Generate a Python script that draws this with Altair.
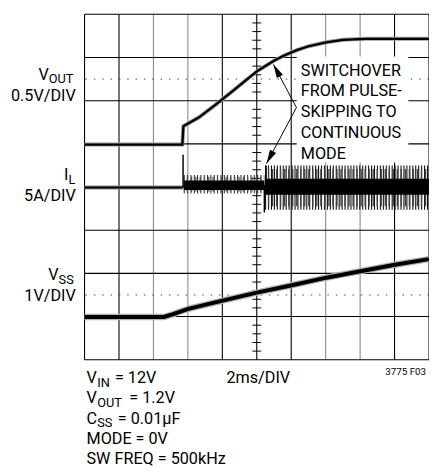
import altair as alt
import pandas as pd

# ---------------- data ----------------
# x in horizontal divisions (2 ms/div, 0..10), y in vertical divisions (0..8, bottom = 0)
VOUT_X = [0.0, 2.84, 2.869, 3.324, 3.807, 4.290, 4.744, 5.028, 5.511, 5.795, 6.165, 6.506, 7.017, 7.5, 8.153, 10.0]
VOUT_Y = [4.984, 4.984, 5.409, 5.614, 5.909, 6.216, 6.511, 6.693, 6.932, 7.045, 7.170, 7.261, 7.352, 7.409, 7.432, 7.432]

VSS_X = [0.0, 2.30, 2.55, 2.76, 3.01, 4.01, 5.03, 5.99, 7.02, 8.01, 9.01, 10.0]
VSS_Y = [0.99, 0.99, 1.05, 1.11, 1.18, 1.37, 1.56, 1.72, 1.90, 2.05, 2.20, 2.33]

IL_BASE_X = [0.0, 2.85]
IL_BASE_Y = [3.99, 3.99]

IL_SEG = ["pre", "pre", "post", "post"]
IL_BAND_X = [2.88, 5.22, 5.24, 10.0]
IL_OUTER_HI = [4.28, 4.28, 4.50, 4.50]
IL_OUTER_LO = [3.85, 3.85, 3.47, 3.47]
IL_CORE_HI = [4.15, 4.15, 4.19, 4.19]
IL_CORE_LO = [3.93, 3.93, 3.82, 3.82]

IL_SPIKE_X = [2.86, 5.22, 5.27]
IL_SPIKE_LO = [3.99, 3.41, 3.90]
IL_SPIKE_HI = [4.75, 4.05, 4.50]

GRID_X = list(range(11))
GRID_X_COLOR = ["black", "black", "#8a8a8a", "#8a8a8a", "black", "black",
                "black", "#8a8a8a", "#8a8a8a", "black", "black"]
GRID_Y = list(range(9))
DOTTED_Y = [6.5, 1.5]

# ---------------- texts and their anchors (in division units) ----------------
FONT = "Roboto"

MAIN_T = ["V", "I", "V", "V", "= 12V", "V", "= 1.2V", "C", "= 0.01\u00b5F",
          "MODE = 0V", "SW FREQ = 500kHz", "2ms/DIV",
          "SWITCHOVER", "FROM PULSE-", "SKIPPING TO", "CONTINUOUS", "MODE"]
MAIN_X = [-1.335, -0.597, -1.051, 0.057, 0.881, 0.057, 1.30, 0.057, 0.966,
          0.057, 0.057, 4.119,
          6.278, 6.278, 6.278, 6.278, 6.278]
MAIN_Y = [6.477, 4.159, 1.841, -0.545, -0.545, -1.011, -1.011, -1.477, -1.477,
          -1.943, -2.409, -0.545,
          6.580, 6.098, 5.616, 5.134, 4.652]

SUB_T = ["OUT", "L", "SS", "IN", "OUT", "SS"]
SUB_X = [-1.037, -0.469, -0.753, 0.370, 0.370, 0.370]
SUB_Y = [6.405, 4.075, 1.760, -0.625, -1.090, -1.550]

RIGHT_T = ["0.5V/DIV", "5A/DIV", "1V/DIV"]
RIGHT_X = [-0.256, -0.256, -0.256]
RIGHT_Y = [6.000, 3.670, 1.350]

SMALL_T = ["3775 F03"]
SMALL_X = [9.915]
SMALL_Y = [-0.364]

BOX = dict(x=6.16, x2=9.40, y=7.02, y2=4.57)
ARROW_X = [6.151, 6.151]
ARROW_Y = [5.841, 5.841]
ARROW_TX = [5.483, 5.284]
ARROW_TY = [6.841, 4.545]
ARROW_ANGLE = [332, 208]

XS = alt.Scale(domain=[0, 10], nice=False, zero=False)
YS = alt.Scale(domain=[0, 8], nice=False, zero=False)


def X(f):
    return alt.X(f, type="quantitative", scale=XS, axis=None)


def Y(f):
    return alt.Y(f, type="quantitative", scale=YS, axis=None)


layers = []

# graticule
gx = pd.DataFrame({"x": GRID_X, "c": GRID_X_COLOR})
layers.append(alt.Chart(gx).mark_rule(strokeWidth=1.1).encode(
    x=X("x"), color=alt.Color("c:N", scale=None)))
gy = pd.DataFrame({"y": GRID_Y})
layers.append(alt.Chart(gy).mark_rule(strokeWidth=1.1, color="black").encode(y=Y("y")))
dy = pd.DataFrame({"y": DOTTED_Y})
layers.append(alt.Chart(dy).mark_rule(strokeWidth=1, color="#444", strokeDash=[1.5, 7]).encode(y=Y("y")))
ticks = pd.DataFrame({"y": [k / 5 for k in range(41) if k % 5], "x": 5 - 0.128, "x2": 5 + 0.128})
layers.append(alt.Chart(ticks).mark_rule(strokeWidth=1, color="black").encode(
    x=X("x"), x2="x2", y=Y("y")))

# white box behind the annotation
layers.append(alt.Chart(pd.DataFrame([BOX])).mark_rect(color="white").encode(
    x=X("x"), x2="x2", y=Y("y"), y2="y2"))

# V_SS trace
vss = pd.DataFrame({"x": VSS_X, "y": VSS_Y})
layers.append(alt.Chart(vss).mark_line(color="#b0b0b0", strokeWidth=6.5).encode(x=X("x"), y=Y("y")))
layers.append(alt.Chart(vss).mark_line(color="black", strokeWidth=4).encode(x=X("x"), y=Y("y")))

# V_OUT trace
vout = pd.DataFrame({"x": VOUT_X, "y": VOUT_Y})
layers.append(alt.Chart(vout).mark_line(color="#9a9a9a", strokeWidth=4).encode(x=X("x"), y=Y("y")))
layers.append(alt.Chart(vout).mark_line(color="black", strokeWidth=2.3).encode(x=X("x"), y=Y("y")))

# I_L trace
ilb = pd.DataFrame({"x": IL_BASE_X, "y": IL_BASE_Y})
layers.append(alt.Chart(ilb).mark_line(color="#8a8a8a", strokeWidth=4).encode(x=X("x"), y=Y("y")))
layers.append(alt.Chart(ilb).mark_line(color="black", strokeWidth=2.2).encode(x=X("x"), y=Y("y")))
band = pd.DataFrame({"seg": IL_SEG, "x": IL_BAND_X, "hi": IL_OUTER_HI, "lo": IL_OUTER_LO,
                     "chi": IL_CORE_HI, "clo": IL_CORE_LO})
band["mid"] = (band["hi"] + band["lo"]) / 2
pre = band[band["seg"] == "pre"]
post = band[band["seg"] == "post"]

# switching ripple drawn as dashed thick strokes -> vertical striping
layers.append(alt.Chart(pre).mark_line(color="#222", strokeWidth=19, strokeDash=[1, 2.4]).encode(
    x=X("x"), y=Y("mid")))
layers.append(alt.Chart(pre).mark_line(color="#555", strokeWidth=15, strokeDash=[1.3, 3.1],
                                       strokeDashOffset=1.5).encode(x=X("x"), y=Y("mid")))
layers.append(alt.Chart(post).mark_line(color="#111", strokeWidth=45, strokeDash=[1.1, 1.9]).encode(
    x=X("x"), y=Y("mid")))
layers.append(alt.Chart(post).mark_line(color="#444", strokeWidth=38, strokeDash=[1.4, 2.7],
                                        strokeDashOffset=1.2).encode(x=X("x"), y=Y("mid")))
layers.append(alt.Chart(band).mark_area(color="black").encode(
    x=X("x"), y=Y("chi"), y2="clo", detail="seg:N"))
spk = pd.DataFrame({"x": IL_SPIKE_X, "lo": IL_SPIKE_LO, "hi": IL_SPIKE_HI})
layers.append(alt.Chart(spk).mark_rule(color="black", strokeWidth=1.5).encode(
    x=X("x"), y=Y("lo"), y2="hi"))

# arrows
arr = pd.DataFrame({"x": ARROW_X, "y": ARROW_Y, "tx": ARROW_TX, "ty": ARROW_TY, "a": ARROW_ANGLE})
layers.append(alt.Chart(arr).mark_rule(color="black", strokeWidth=1).encode(
    x=X("x"), y=Y("y"), x2="tx", y2="ty"))
layers.append(alt.Chart(arr).mark_point(shape="M0,0L-0.5,2L0.5,2Z", filled=True, size=196,
                                        color="black", opacity=1, strokeWidth=0).encode(
    x=X("tx"), y=Y("ty"), angle=alt.Angle("a:Q", scale=None)))


# texts
def text_layer(t, xs, ys, size, align):
    df = pd.DataFrame({"t": t, "x": xs, "y": ys})
    return alt.Chart(df).mark_text(font=FONT, fontSize=size, align=align, baseline="alphabetic",
                                   color="black").encode(x=X("x"), y=Y("y"), text="t:N")


layers.append(text_layer(MAIN_T, MAIN_X, MAIN_Y, 16.5, "left"))
layers.append(text_layer(SUB_T, SUB_X, SUB_Y, 13, "left"))
layers.append(text_layer(RIGHT_T, RIGHT_X, RIGHT_Y, 16.5, "right"))
layers.append(text_layer(SMALL_T, SMALL_X, SMALL_Y, 10, "right"))

chart = alt.layer(*layers).properties(
    width=351, height=352,
    autosize=alt.AutoSizeParams(type="none"),
    padding={"left": 78, "top": 2, "right": 0, "bottom": 112},
    background="white",
).configure_view(strokeWidth=0)

chart.save("out.html", embed_options={"renderer": "svg", "actions": False})
